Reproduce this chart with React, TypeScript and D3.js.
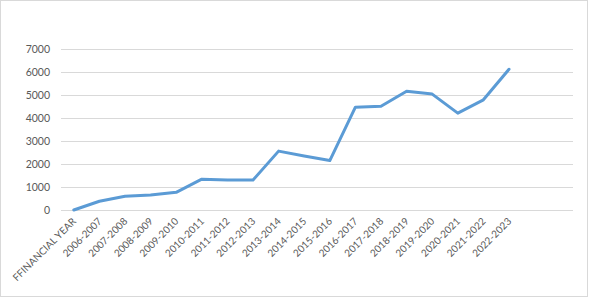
import React from "react";
import * as d3 from "d3";

const categories: string[] = [
  "FFINANCIAL YEAR", "2006-2007", "2007-2008", "2008-2009", "2009-2010", "2010-2011",
  "2011-2012", "2012-2013", "2013-2014", "2014-2015", "2015-2016", "2016-2017",
  "2017-2018", "2018-2019", "2019-2020", "2020-2021", "2021-2022", "2022-2023", "", " ",
];
const values: (number | null)[] = [
  0, 380, 600, 650, 770, 1340, 1300, 1300, 2560, 2350, 2150, 4470,
  4510, 5160, 5040, 4210, 4790, 6120, null, null,
];
const yTicks: number[] = [0, 1000, 2000, 3000, 4000, 5000, 6000, 7000];

export default function App() {
  const W = 589, H = 298;
  const left = 61, right = 573, top = 49, bottom = 210;
  const x = d3.scaleBand<string>().domain(categories).range([left, right]);
  const y = d3.scaleLinear().domain([0, 7000]).range([bottom, top]);
  const pts = categories
    .map((c, i) => ({ c, v: values[i] }))
    .filter((d) => d.v !== null) as { c: string; v: number }[];
  const line = d3
    .line<{ c: string; v: number }>()
    .x((d) => (x(d.c) as number) + x.bandwidth() / 2)
    .y((d) => y(d.v));
  const font = "Lato, 'Open Sans', sans-serif";
  return (
    <svg width={W} height={H} style={{ position: "absolute", left: 0, top: 0 }}>
      <rect x={0.5} y={0.5} width={W - 2} height={H - 2} fill="#fff" stroke="#d9d9d9" />
      {yTicks.map((t) => (
        <g key={t}>
          <line x1={left} x2={right} y1={Math.round(y(t)) + 0.5} y2={Math.round(y(t)) + 0.5} stroke="#d9d9d9" strokeWidth={1} />
          <text x={50} y={y(t)} dy="0.35em" textAnchor="end" fontFamily={font} fontSize={10.5} fill="#595959">
            {t}
          </text>
        </g>
      ))}
      {categories.map((c) => {
        const cx = (x(c) as number) + x.bandwidth() / 2 + 3;
        const cy = bottom + 12;
        return c.trim() ? (
          <text key={c} transform={`translate(${cx},${cy}) rotate(-45)`} textAnchor="end" fontFamily={font} fontSize={10} fill="#595959">
            {c}
          </text>
        ) : null;
      })}
      <path d={line(pts) || ""} fill="none" stroke="#5B9BD5" strokeWidth={3} strokeLinejoin="round" strokeLinecap="round" />
    </svg>
  );
}
